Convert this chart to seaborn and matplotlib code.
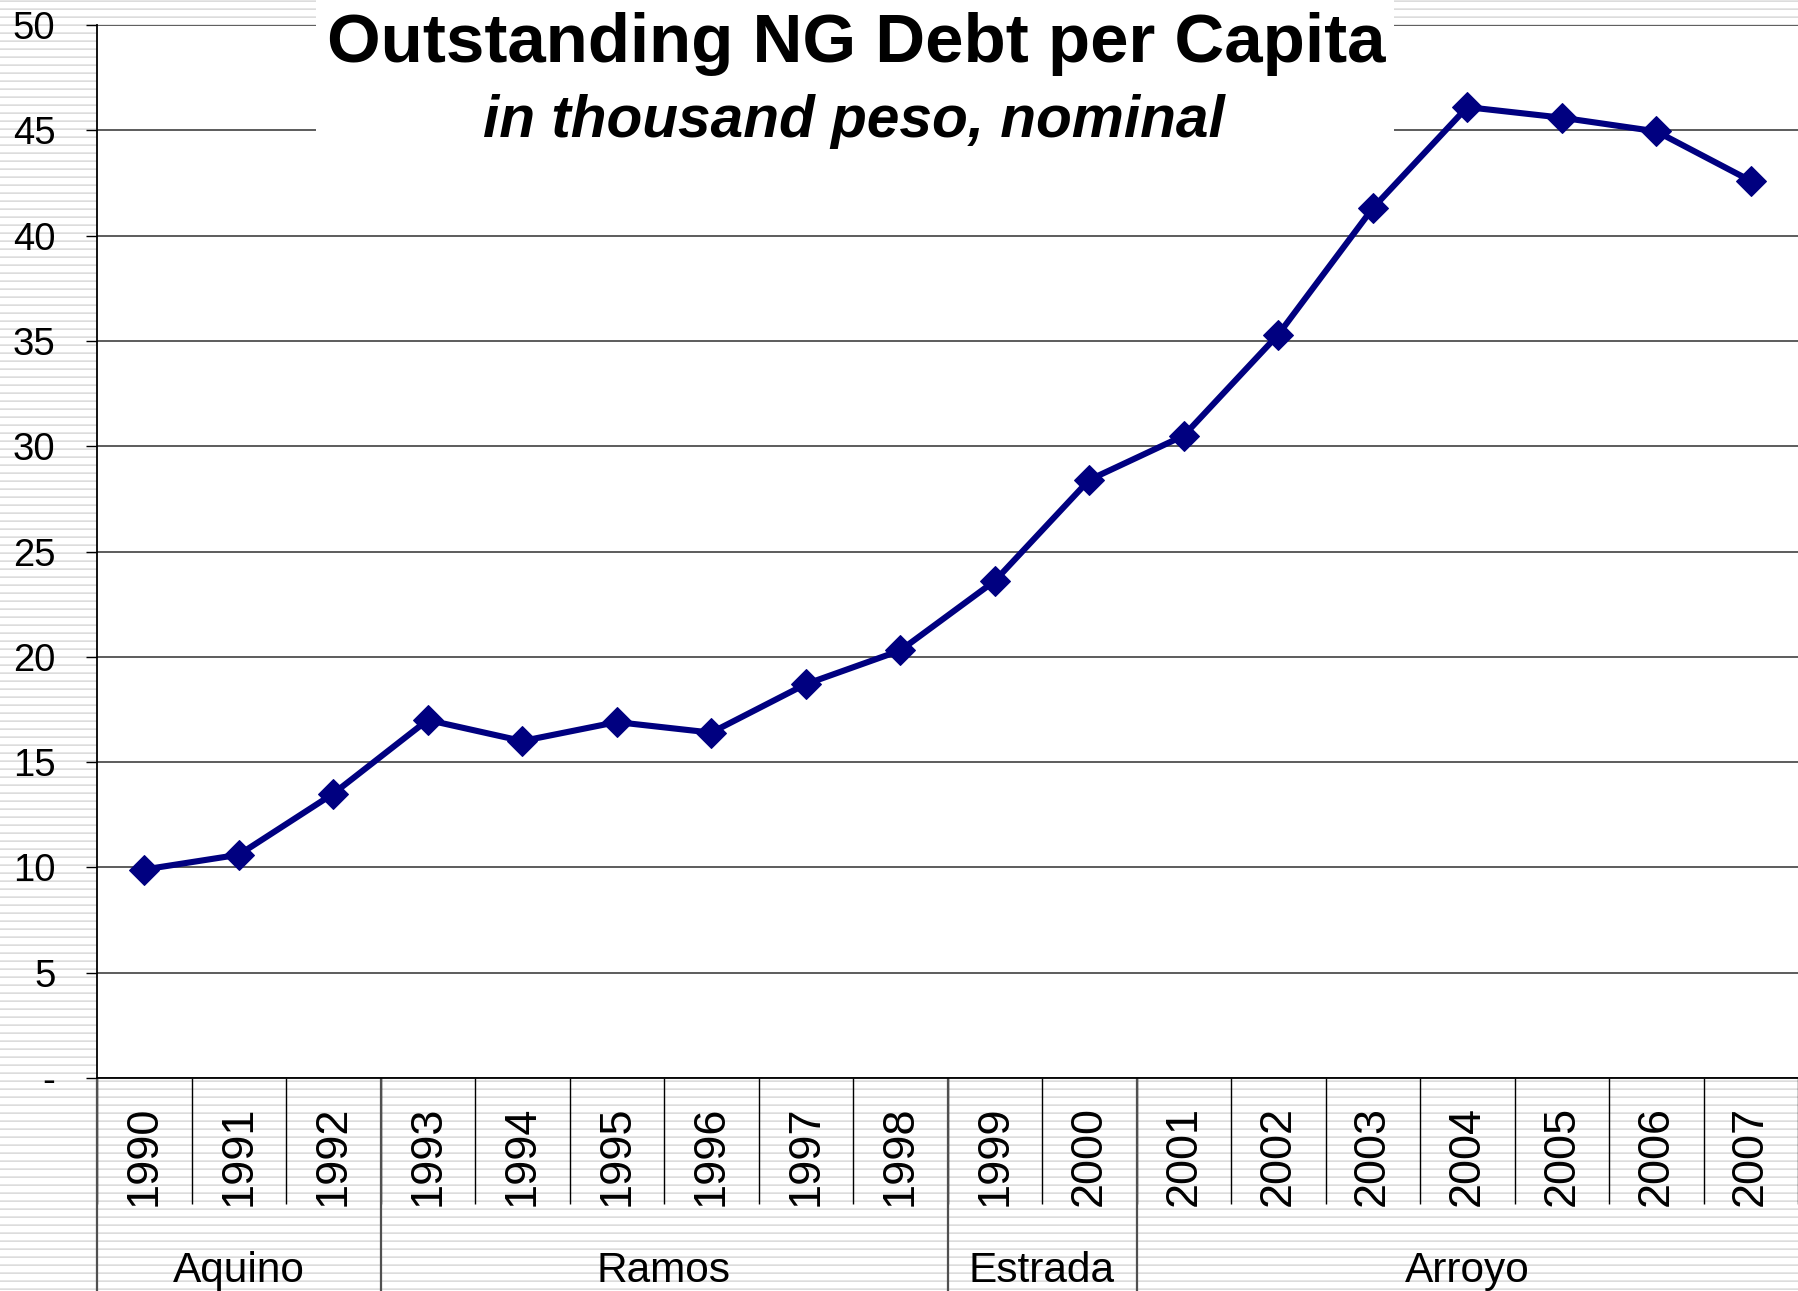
import numpy as np
import pandas as pd
import matplotlib
matplotlib.use("Agg")
import matplotlib.pyplot as plt
from matplotlib.patches import Rectangle
import seaborn as sns

# Outstanding national government debt per capita (thousand pesos, nominal)
years = ["1990", "1991", "1992", "1993", "1994", "1995", "1996", "1997", "1998",
         "1999", "2000", "2001", "2002", "2003", "2004", "2005", "2006", "2007"]
debt_per_capita = [9.9, 10.6, 13.5, 17.0, 16.0, 16.9, 16.4, 18.7, 20.3,
                   23.6, 28.4, 30.5, 35.3, 41.3, 46.1, 45.6, 44.95, 42.6]

# Presidential administrations: name and number of years covered
admins = ["Aquino", "Ramos", "Estrada", "Arroyo"]
admin_years = [3, 6, 2, 7]

y_ticks = [0, 5, 10, 15, 20, 25, 30, 35, 40, 45, 50]
y_tick_labels = ["-", "5", "10", "15", "20", "25", "30", "35", "40", "45", "50"]

title = "Outstanding NG Debt per Capita"
subtitle = "in thousand peso, nominal"

df = pd.DataFrame({"pos": np.arange(len(years)), "year": years,
                   "debt": debt_per_capita})

sns.set_theme(style="white")
plt.rcParams["font.family"] = ["Liberation Sans", "DejaVu Sans"]

W, H = 1798, 1291
fig = plt.figure(figsize=(W / 100, H / 100), dpi=100)

# striped backdrop behind the whole figure
rows = np.ones((H, 1))
rows[0::8, 0] = 0.90
rows[1::8, 0] = 0.86
bg = fig.add_axes([0, 0, 1, 1], zorder=-10)
bg.imshow(rows, cmap="gray", vmin=0, vmax=1, aspect="auto",
          interpolation="nearest", extent=[0, 1, 0, 1])
bg.set_axis_off()

left, top, bottom = 97, 25, 1078
ax = fig.add_axes([left / W, 1 - bottom / H, 1 - left / W, (bottom - top) / H])
ax.set_facecolor("white")

navy = "#000080"
sns.lineplot(data=df, x="pos", y="debt", ax=ax, color=navy, linewidth=4.4,
             marker="D", markersize=15, markeredgecolor=navy,
             markerfacecolor=navy, zorder=4)

ax.set_xlim(-0.5, len(years) - 0.5)
ax.set_ylim(0, 50)
ax.set_xlabel("")
ax.set_ylabel("")

# horizontal gridlines
ax.set_yticks(y_ticks)
ax.set_yticklabels(y_tick_labels)
ax.grid(axis="y", color="#303030", linewidth=1.1)
ax.grid(axis="x", visible=False)
ax.set_axisbelow(True)

for s in ["top", "right"]:
    ax.spines[s].set_visible(False)
for s in ["left", "bottom"]:
    ax.spines[s].set_color("black")
    ax.spines[s].set_linewidth(1.3)

ax.tick_params(axis="y", which="major", direction="out", length=8, width=1,
               color="black", pad=22, labelsize=27.5, labelcolor="black", left=True)

# category labels, with divider ticks between categories
ax.set_xticks(df["pos"])
ax.set_xticklabels(years, rotation=90)
ax.tick_params(axis="x", which="major", length=0, pad=20, labelsize=32.5,
               labelcolor="black")
ax.set_xticks(np.arange(-0.5, len(years)), minor=True)
ax.tick_params(axis="x", which="minor", direction="out", length=91, width=1,
               color="black", bottom=True)

# administration boundaries and labels below the year labels
ylow = -(H - bottom) / (bottom - top)
edges = np.concatenate([[0], np.cumsum(admin_years)]) - 0.5
ax.vlines(edges[:-1], ylow, 0, transform=ax.get_xaxis_transform(),
          colors="#505050", linewidth=1.6, clip_on=False)
label_y = -(1282 - bottom) / (bottom - top)
for name, a, b in zip(admins, edges[:-1], edges[1:]):
    ax.text((a + b) / 2, label_y, name, transform=ax.get_xaxis_transform(),
            ha="center", va="baseline", fontsize=30.5, color="black")

# title block on a white panel
fig.add_artist(Rectangle((316 / W, 1 - 165 / H), (1394 - 316) / W, 165 / H,
                         transform=fig.transFigure, facecolor="white",
                         edgecolor="none", zorder=5))
fig.text(856 / W, 1 - 62 / H, title, ha="center", va="baseline",
         fontsize=49.7, fontweight="bold", color="black", zorder=6)
fig.text(854 / W, 1 - 137 / H, subtitle, ha="center", va="baseline",
         fontsize=42.2, fontweight="bold", fontstyle="italic", color="black",
         zorder=6)

fig.savefig("out.png", dpi=100)
